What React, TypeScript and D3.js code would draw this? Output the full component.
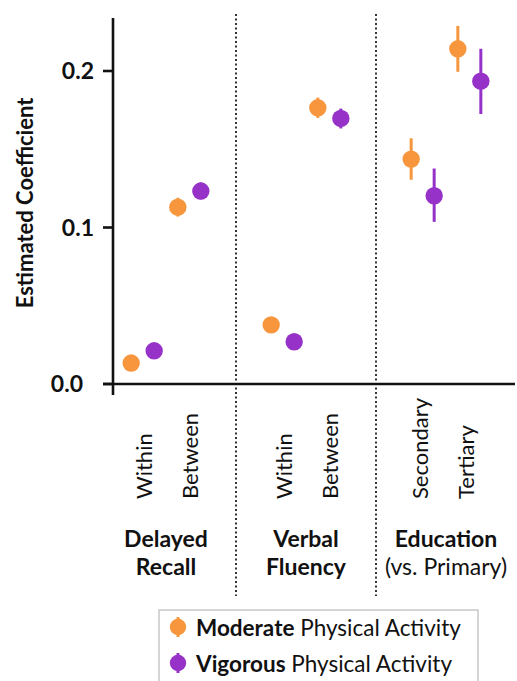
import React from "react";
import * as d3 from "d3";

// Outcome groups and the two sub-categories shown within each group
const groups = ["Delayed Recall", "Verbal Fluency", "Education"];
const groupTitles: string[][] = [["Delayed", "Recall"], ["Verbal", "Fluency"], ["Education"]];
const groupSubtitles = ["", "", "(vs. Primary)"];
const subCategories: string[][] = [
  ["Within", "Between"],
  ["Within", "Between"],
  ["Secondary", "Tertiary"],
];

const seriesNames = ["Moderate", "Vigorous"];
const seriesColors = ["#F7963C", "#9632C8"];

// Estimated coefficients (per group, per sub-category) with lower/upper CI
const moderateEst = [[0.0134, 0.113], [0.0378, 0.1765], [0.1437, 0.2142]];
const moderateLo = [[0.0134, 0.107], [0.0378, 0.170], [0.1305, 0.1995]];
const moderateHi = [[0.0134, 0.119], [0.0378, 0.183], [0.157, 0.2288]];
const vigorousEst = [[0.0212, 0.1233], [0.027, 0.1697], [0.1203, 0.1935]];
const vigorousLo = [[0.0212, 0.118], [0.027, 0.1633], [0.1036, 0.1725]];
const vigorousHi = [[0.0212, 0.1288], [0.027, 0.176], [0.1377, 0.2142]];

const yTicks = [0.0, 0.1, 0.2];

const FONT = "Lato, 'Open Sans', sans-serif";

export default function App() {
  const width = 517;
  const height = 681;

  const y = d3.scaleLinear().domain([0, 0.1]).range([384, 227.5]);
  const xGroup = d3.scaleBand<string>().domain(groups).range([96, 516]);
  const xSub = d3.scalePoint<number>().domain([0, 1]).range([0, xGroup.bandwidth()]).padding(1);
  const xSeries = d3.scalePoint<string>().domain(seriesNames).range([-11.5, 11.5]);

  const est = [moderateEst, vigorousEst];
  const lo = [moderateLo, vigorousLo];
  const hi = [moderateHi, vigorousHi];

  const axisColor = "#111";

  return (
    <svg width={width} height={height} style={{ position: "absolute", left: 0, top: 0, background: "#fff" }}>
      {/* group dividers */}
      {groups.slice(1).map((g) => (
        <line
          key={g}
          x1={xGroup(g)!}
          x2={xGroup(g)!}
          y1={14}
          y2={596}
          stroke="#333"
          strokeWidth={2}
          strokeDasharray="2,2.5"
        />
      ))}

      {/* axes */}
      <line x1={113} x2={113} y1={18} y2={395} stroke={axisColor} strokeWidth={2.6} />
      <line x1={103} x2={515} y1={y(0)} y2={y(0)} stroke={axisColor} strokeWidth={2.6} />
      {yTicks.map((t) => (
        <g key={t}>
          <line x1={103} x2={113} y1={y(t)} y2={y(t)} stroke={axisColor} strokeWidth={2.6} />
          <text
            // the zero label steps left, clear of the baseline's overhang
            x={t === 0 ? 83 : 94}
            y={y(t)}
            dy="0.36em"
            textAnchor="end"
            fontFamily={FONT}
            fontWeight="bold"
            fontSize={23}
            fill="#111"
          >
            {d3.format(".1f")(t)}
          </text>
        </g>
      ))}
      <text
        transform={`translate(33,203) rotate(-90)`}
        textAnchor="middle"
        fontFamily={FONT}
        fontWeight="bold"
        fontSize={22}
        fill="#111"
      >
        Estimated Coefficient
      </text>

      {/* sub-category labels and group titles */}
      {groups.map((g, gi) => {
        const gx = xGroup(g)! + xGroup.bandwidth() / 2;
        return (
          <g key={g}>
            {subCategories[gi].map((s, si) => {
              // centre the glyphs on the tick: words with descenders sit closer to the baseline
              const shift = /[gjpqy]/.test(s) ? 5 : 9;
              return (
                <text
                  key={s}
                  transform={`translate(${xGroup(g)! + xSub(si)! + shift},499) rotate(-90)`}
                  textAnchor="start"
                  fontFamily={FONT}
                  fontSize={22}
                  fill="#111"
                >
                  {s}
                </text>
              );
            })}
            {groupTitles[gi].map((line, li) => (
              <text
                key={line}
                x={gx}
                y={547 + li * 28}
                textAnchor="middle"
                fontFamily={FONT}
                fontWeight="bold"
                fontSize={23}
                fill="#111"
              >
                {line}
              </text>
            ))}
            {groupSubtitles[gi] && (
              <text x={gx} y={575} textAnchor="middle" fontFamily={FONT} fontSize={23} fill="#111">
                {groupSubtitles[gi]}
              </text>
            )}
          </g>
        );
      })}

      {/* estimates with confidence intervals */}
      {seriesNames.map((s, k) => (
        <g key={s}>
          {groups.map((g, gi) =>
            subCategories[gi].map((_, si) => {
              const cx = xGroup(g)! + xSub(si)! + xSeries(s)!;
              return (
                <g key={`${g}-${si}`}>
                  <line
                    x1={cx}
                    x2={cx}
                    y1={y(lo[k][gi][si])}
                    y2={y(hi[k][gi][si])}
                    stroke={seriesColors[k]}
                    strokeWidth={3}
                  />
                  <circle cx={cx} cy={y(est[k][gi][si])} r={8.7} fill={seriesColors[k]} />
                </g>
              );
            })
          )}
        </g>
      ))}

      {/* legend */}
      <rect x={159} y={610} width={319} height={72} fill="#fff" stroke="#c8c8c8" strokeWidth={1.5} />
      {seriesNames.map((s, k) => {
        const ly = 627 + k * 36;
        return (
          <g key={s}>
            <line x1={178} x2={178} y1={ly - 10} y2={ly + 10} stroke={seriesColors[k]} strokeWidth={3} />
            <circle cx={178} cy={ly} r={8.2} fill={seriesColors[k]} />
            <text x={196} y={ly + 9} fontFamily={FONT} fontSize={22.5} fill="#111">
              <tspan fontWeight="bold">{s}</tspan>
              <tspan> Physical Activity</tspan>
            </text>
          </g>
        );
      })}
    </svg>
  );
}
